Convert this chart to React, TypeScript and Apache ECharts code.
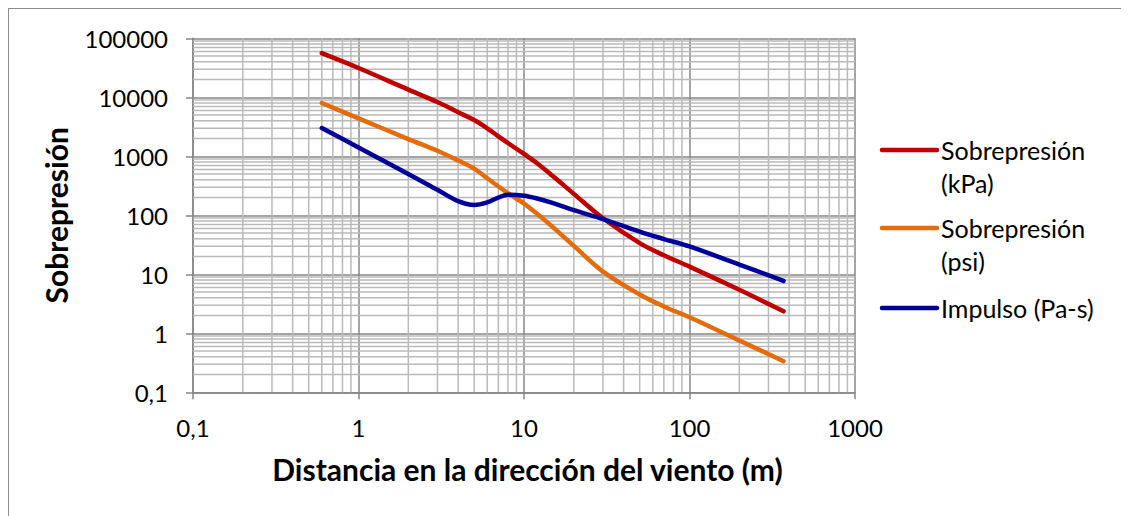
import React, { useEffect, useRef } from "react";
import * as echarts from "echarts";

const distances = [0.6, 1, 2, 3, 4, 5, 6, 7, 8, 10, 12, 15, 20, 30, 50, 70, 100, 200, 370];
const kpa = [56000, 31400, 13500, 8300, 5570, 4120, 2985, 2180, 1680, 1095, 765, 458, 231, 89, 33.8, 21, 13.5, 5.46, 2.36];
const psi = [8000, 4400, 1960, 1240, 849, 619, 425, 308, 238, 158, 106, 62.4, 30.3, 11.1, 4.55, 2.85, 1.87, 0.755, 0.337];
const impulso = [3020, 1410, 503, 270, 174, 150, 166, 200, 222, 215, 193, 161, 122, 86.5, 52.7, 39.6, 29.6, 14.6, 7.73];

const seriesNames = ["Sobrepresión (kPa)", "Sobrepresión (psi)", "Impulso (Pa-s)"];
const legendLines = [["Sobrepresión", "(kPa)"], ["Sobrepresión", "(psi)"], ["Impulso (Pa-s)"]];
const seriesColors = ["#c00000", "#e46c0a", "#000098"];

const xTickValues = [0.1, 1, 10, 100, 1000];
const yTickValues = [0.1, 1, 10, 100, 1000, 10000, 100000];
const minorSteps = [2, 3, 4, 5, 6, 7, 8, 9];

const xTitle = "Distancia en la dirección del viento (m)";
const yTitle = "Sobrepresión";

const FONT = "Lato";

function fmt(v: number): string {
  const s = v < 1 ? v.toFixed(1) : String(Math.round(v));
  return s.replace(".", ",");
}

function minorValues(ticks: number[]): number[] {
  const out: number[] = [];
  for (let i = 0; i < ticks.length - 1; i++) {
    for (const m of minorSteps) out.push(Number((ticks[i] * m).toPrecision(6)));
  }
  return out;
}

export default function App() {
  const ref = useRef<HTMLDivElement>(null);
  useEffect(() => {
    if (!ref.current) return;
    const chart = echarts.init(ref.current, null, { renderer: "svg" });
    const xMin = xTickValues[0], xMax = xTickValues[xTickValues.length - 1];
    const yMin = yTickValues[0], yMax = yTickValues[yTickValues.length - 1];
    const xMinor = minorValues(xTickValues);
    const yMinor = minorValues(yTickValues);
    const dataSets = [kpa, psi, impulso];

    const legendGraphics: any[] = [];
    const legendTops = [142, 220, 300];
    legendLines.forEach((lines, i) => {
      const top = legendTops[i];
      legendGraphics.push({
        type: "line",
        shape: { x1: 874, y1: top, x2: 929, y2: top },
        style: { stroke: seriesColors[i], lineWidth: 4.5, lineCap: "round" },
      });
      lines.forEach((t, j) => {
        legendGraphics.push({
          type: "text",
          x: 933,
          y: top + j * 33,
          style: { text: t, font: `25px ${FONT}`, fill: "#000", textVerticalAlign: "middle", textAlign: "left" },
        });
      });
    });

    chart.setOption({
      animation: false,
      grid: { left: 185, top: 30.3, width: 662, height: 354, containLabel: false },
      xAxis: {
        type: "log",
        logBase: 10,
        min: xMin,
        max: xMax,
        interval: 1,
        name: xTitle,
        nameLocation: "middle",
        nameGap: 62,
        nameTextStyle: { fontFamily: FONT, fontWeight: "bold", fontSize: 30, color: "#000", padding: [0, 0, 0, 7] },
        axisLine: { show: true, lineStyle: { color: "#868686", width: 1.5 } },
        axisTick: { show: true, length: 7, lineStyle: { color: "#868686", width: 1.5 } },
        axisLabel: { fontFamily: FONT, fontSize: 24, color: "#000", margin: 23, formatter: fmt },
        splitLine: { show: true, lineStyle: { color: "#878787", width: 1.5 } },
      },
      yAxis: {
        type: "log",
        logBase: 10,
        min: yMin,
        max: yMax,
        interval: 1,
        name: yTitle,
        nameLocation: "middle",
        nameGap: 122,
        nameRotate: 90,
        nameTextStyle: { fontFamily: FONT, fontWeight: "bold", fontSize: 30, color: "#000" },
        axisLine: { show: true, lineStyle: { color: "#868686", width: 1.5 } },
        axisTick: { show: true, length: 7, lineStyle: { color: "#868686", width: 1.5 } },
        axisLabel: { fontFamily: FONT, fontSize: 24, color: "#000", margin: 25, formatter: fmt },
        splitLine: { show: true, lineStyle: { color: "#878787", width: 1.5 } },
      },
      series: [
        {
          type: "custom",
          name: "minorX",
          silent: true,
          z: 1,
          data: xMinor.map((v) => [v, 1]),
          renderItem: (_p: any, api: any) => {
            const x = api.value(0);
            const a = api.coord([x, yMin]);
            const b = api.coord([x, yMax]);
            return { type: "line", shape: { x1: a[0], y1: a[1], x2: b[0], y2: b[1] }, style: { stroke: "#bababa", lineWidth: 1.5 } };
          },
        },
        {
          type: "custom",
          name: "minorY",
          silent: true,
          z: 1,
          data: yMinor.map((v) => [1, v]),
          renderItem: (_p: any, api: any) => {
            const y = api.value(1);
            const a = api.coord([xMin, y]);
            const b = api.coord([xMax, y]);
            return { type: "line", shape: { x1: a[0], y1: a[1], x2: b[0], y2: b[1] }, style: { stroke: "#bababa", lineWidth: 1.5 } };
          },
        },
        ...dataSets.map((d, i) => ({
          type: "line",
          name: seriesNames[i],
          data: distances.map((x, k) => [x, d[k]]),
          smooth: 0.35,
          showSymbol: false,
          z: 3,
          lineStyle: { color: seriesColors[i], width: 4.5, cap: "round", join: "round" },
          itemStyle: { color: seriesColors[i] },
        })),
      ],
      graphic: [
        { type: "line", shape: { x1: 0, y1: 0.5, x2: 1121, y2: 0.5 }, style: { stroke: "#8c8c8c", lineWidth: 1 } },
        { type: "line", shape: { x1: 0.5, y1: 0, x2: 0.5, y2: 508 }, style: { stroke: "#8c8c8c", lineWidth: 1 } },
        ...legendGraphics,
      ],
    });
    return () => chart.dispose();
  }, []);
  return <div ref={ref} style={{ width: 1121, height: 508 }} />;
}
